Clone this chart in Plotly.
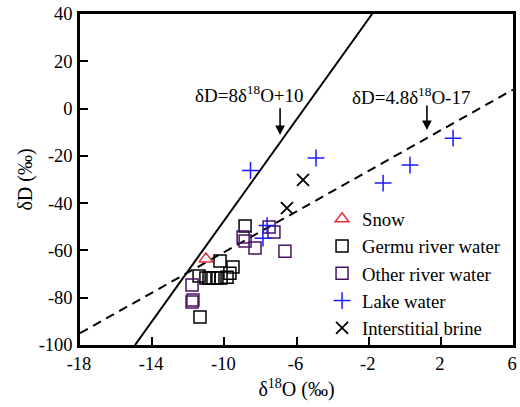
import plotly.graph_objects as go

# ---- data ----
snow_x = [-11.02]
snow_y = [-63.6]

germu_x = [-8.85, -10.24, -9.52, -9.69, -9.85, -11.40, -11.02, -10.85, -10.63, -10.41, -10.18, -11.35]
germu_y = [-49.7, -64.5, -67.0, -69.6, -71.3, -70.8, -71.7, -71.7, -71.7, -71.7, -71.7, -88.2]

other_x = [-8.96, -8.85, -8.30, -7.52, -7.25, -6.64, -11.79, -11.74, -11.79]
other_y = [-54.3, -56.0, -59.0, -50.1, -52.2, -60.3, -74.6, -81.0, -81.8]

lake_x = [-8.55, -4.92, -1.2, 0.29, 2.68, -7.63, -7.86]
lake_y = [-26.2, -20.9, -31.5, -23.9, -12.5, -49.5, -54.8]

brine_x = [-5.64, -6.53]
brine_y = [-30.2, -42.1]

gmwl_x = [-14.95, -1.81]
gmwl_y = [-100, 40]

lel_x = [-18, 6]
lel_y = [-95, 8]

x_ticks = [-18, -14, -10, -6, -2, 2, 6]
y_ticks = [-100, -80, -60, -40, -20, 0, 20, 40]

FONT = "Liberation Serif"

fig = go.Figure()

fig.add_trace(go.Scatter(x=gmwl_x, y=gmwl_y, mode="lines",
                         line=dict(color="black", width=2), showlegend=False, hoverinfo="skip"))
fig.add_trace(go.Scatter(x=lel_x, y=lel_y, mode="lines",
                         line=dict(color="black", width=2, dash="9px,6px"), showlegend=False, hoverinfo="skip"))

fig.add_trace(go.Scatter(x=snow_x, y=snow_y, mode="markers", name="Snow",
                         marker=dict(symbol="triangle-up-open", size=12, color="#e3343c",
                                     line=dict(width=1.5, color="#e3343c"))))
fig.add_trace(go.Scatter(x=germu_x, y=germu_y, mode="markers", name="Germu river water",
                         marker=dict(symbol="square-open", size=12, color="black",
                                     line=dict(width=1.5, color="black"))))
fig.add_trace(go.Scatter(x=other_x, y=other_y, mode="markers", name="Other river water",
                         marker=dict(symbol="square-open", size=12, color="#4a1262",
                                     line=dict(width=1.5, color="#4a1262"))))
fig.add_trace(go.Scatter(x=lake_x, y=lake_y, mode="markers", name="Lake water",
                         marker=dict(symbol="cross-thin-open", size=12, color="#1a1aff",
                                     line=dict(width=1.5, color="#1a1aff"))))
fig.add_trace(go.Scatter(x=brine_x, y=brine_y, mode="markers", name="Interstitial brine",
                         marker=dict(symbol="x-thin-open", size=12, color="black",
                                     line=dict(width=1.8, color="black"))))

# equation labels
fig.add_annotation(x=-8.58, y=6.3, text="δD=8δ<sup>18</sup>O+10", showarrow=False,
                   font=dict(family=FONT, size=19, color="black"))
fig.add_annotation(x=-6.91, y=-11.2, ax=-6.91, ay=0.8, axref="x", ayref="y", text="",
                   showarrow=True, arrowhead=2, arrowsize=1.2, arrowwidth=1.6, arrowcolor="black")
fig.add_annotation(x=0.35, y=5.3, text="δD=4.8δ<sup>18</sup>O-17", showarrow=False,
                   font=dict(family=FONT, size=19, color="black"))
fig.add_annotation(x=1.23, y=-9.1, ax=1.23, ay=1.9, axref="x", ayref="y", text="",
                   showarrow=True, arrowhead=2, arrowsize=1.2, arrowwidth=1.6, arrowcolor="black")

fig.update_layout(
    width=520, height=407,
    margin=dict(l=80, r=7, t=14, b=62),
    paper_bgcolor="white", plot_bgcolor="white",
    font=dict(family=FONT, size=18, color="black"),
    legend=dict(x=0.559, y=0.438, xanchor="left", yanchor="top",
                bgcolor="rgba(0,0,0,0)", font=dict(family=FONT, size=18.7),
                itemsizing="trace"),
    showlegend=True,
)

fig.update_xaxes(range=[-18, 6], tickvals=x_ticks, ticktext=[str(v) for v in x_ticks],
                 ticks="inside", ticklen=8, tickwidth=1.5, tickcolor="black",
                 showline=True, linewidth=2.5, linecolor="black", mirror=True,
                 showgrid=False, zeroline=False, automargin=False,
                 tickfont=dict(family=FONT, size=18.5), ticklabelshift=-1,
                 title=dict(text="δ<sup>18</sup>O (‰)", font=dict(family=FONT, size=20), standoff=10))
fig.update_yaxes(range=[-100, 40], tickvals=y_ticks, ticktext=[str(v) for v in y_ticks],
                 ticks="inside", ticklen=8, tickwidth=1.5, tickcolor="black",
                 showline=True, linewidth=2.5, linecolor="black", mirror=True,
                 showgrid=False, zeroline=False, automargin=False,
                 tickfont=dict(family=FONT, size=18.5), ticklabelstandoff=1,
                 title=dict(text="δD (‰)", font=dict(family=FONT, size=20), standoff=1))

fig.write_html("out.html", config={"displayModeBar": False},
               post_script="document.body.style.margin='0';document.body.style.padding='0';")
